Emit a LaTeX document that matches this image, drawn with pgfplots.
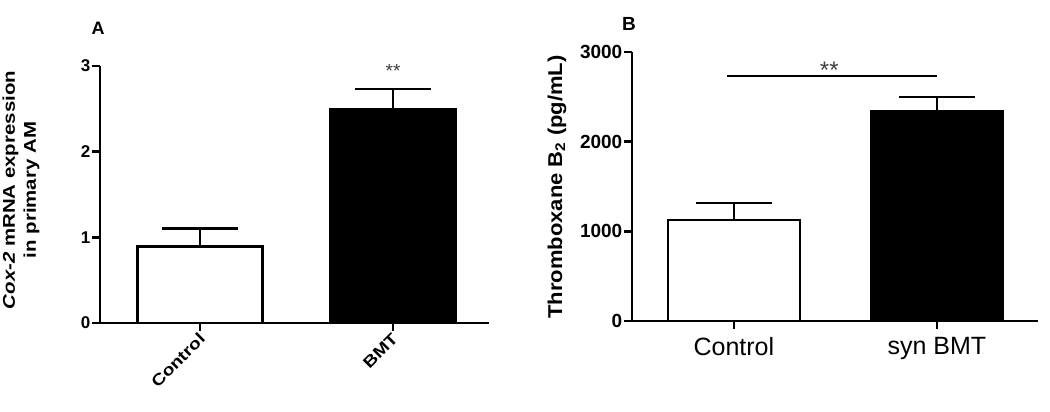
\documentclass[border=0pt]{standalone}
\usepackage{fontspec}
\setmainfont{Liberation Sans}
\newfontfamily\widesans[FakeStretch=1.2]{Liberation Sans}
\newfontfamily\semiwide[FakeStretch=1.1]{Liberation Sans}
\usepackage{pgfplots}
\pgfplotsset{compat=1.18}

\pgfplotsset{
  panel/.style={
    scale only axis, anchor=south west, clip=false,
    enlargelimits=false,
    axis x line=bottom, axis y line=left,
    axis line style={-, line width=2.6pt, black},
    every tick/.style={black, line width=2.4pt},
    major tick length=8pt, tick align=outside,
    /pgf/number format/assume math mode=true,
    /pgf/number format/1000 sep={},
  },
  barstyle/.style={ybar, bar width=0.65, bar shift=0pt, draw=black, line width=2.6pt,
    error bars/.cd, y dir=plus, y explicit,
    error bar style={line width=2.6pt, black},
    error mark options={rotate=90, line width=2.6pt, mark size=38pt, black}},
}

\begin{document}
\begin{tikzpicture}
\path[use as bounding box] (0pt,0pt) rectangle (1050pt,412pt);

% panel A
\begin{axis}[panel, name=pa, at={(100pt,89pt)}, width=389pt, height=257pt,
  xmin=-0.518, xmax=1.497, ymin=0, ymax=3,
  ytick={0,1,2,3}, xtick={0,1}, xticklabels={Control,BMT},
  yticklabel style={font=\bfseries\fontsize{17}{17}\selectfont, inner sep=1.5pt},
  xticklabel style={font=\widesans\bfseries\fontsize{16}{16}\selectfont, rotate=45, anchor=east, inner sep=2pt, yshift=-5pt}]
\addplot[fill=white, barstyle] coordinates {(0,0.89) +- (0,0.21)};
\addplot[fill=black, barstyle] coordinates {(1,2.50) +- (0,0.23)};
\node[anchor=base, text=black!75, font=\fontsize{19}{19}\selectfont] at (axis cs:1,2.86) {**};
\end{axis}
\node[font=\bfseries\fontsize{18}{18}\selectfont] at (98pt,384pt) {A};
\node[rotate=90, align=center, font=\widesans\bfseries\fontsize{17}{21}\selectfont] at (21pt,222pt)
  {\textit{Cox-2} mRNA expression\\in primary AM};

% panel B
\begin{axis}[panel, name=pb, at={(632pt,91pt)}, width=406pt, height=269pt,
  xmin=-0.502, xmax=1.498, ymin=0, ymax=3000,
  ytick={0,1000,2000,3000}, xtick={0,1}, xticklabels={Control,syn BMT},
  yticklabel style={font=\bfseries\fontsize{19}{19}\selectfont, inner sep=1.5pt},
  xticklabel style={font=\fontsize{25}{25}\selectfont, yshift=-5pt}]
\addplot[fill=white, barstyle] coordinates {(0,1126) +- (0,189)};
\addplot[fill=black, barstyle] coordinates {(1,2341) +- (0,156)};
\addplot[line width=2.6pt, black, no marks] coordinates {(-0.034,2731) (1.0,2731)};
\node[anchor=base, text=black!75, font=\fontsize{24}{24}\selectfont] at (axis cs:0.47,2709) {**};
\end{axis}
\node[font=\bfseries\fontsize{19}{19}\selectfont] at (629pt,388pt) {B};
\node[rotate=90, font=\semiwide\bfseries\fontsize{20}{20}\selectfont] at (557pt,225pt)
  {Thromboxane B\textsubscript{2} (pg/mL)};
\end{tikzpicture}
\end{document}
